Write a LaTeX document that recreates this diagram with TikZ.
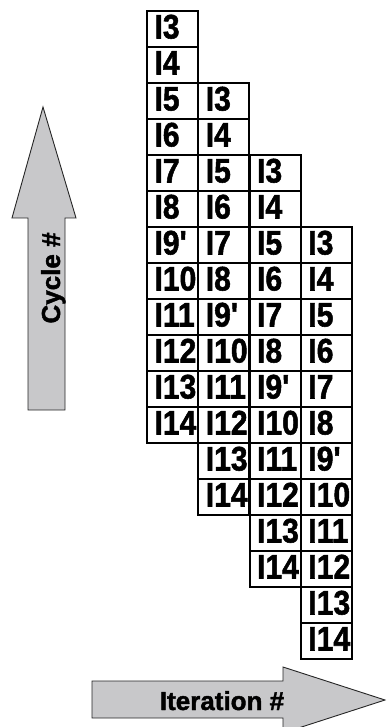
\documentclass[tikz,border=0pt]{standalone}
\usepackage{fontspec}
\setmainfont{Liberation Sans}
\newfontfamily\heavyfont[FakeBold=1.6]{Liberation Sans}
\definecolor{arrowgray}{RGB}{200,200,202}
\begin{document}
\begin{tikzpicture}[x=1pt,y=-1pt,
  cell/.style={draw, line width=2pt, anchor=north west,
    minimum width=51pt, minimum height=36pt, inner xsep=7.5pt, inner ysep=0pt,
    text height=25pt, text depth=6pt,
    font=\fontsize{31}{31}\heavyfont\bfseries},
  bigarrow/.style={draw=black!85, line width=0.9pt, fill=arrowgray, line join=miter},
  arrowtext/.style={font=\fontsize{26}{26}\heavyfont\bfseries, inner sep=0pt}]
\useasboundingbox (0,0) rectangle (386,727);
\clip (0,0) rectangle (386,727);
% cells
\foreach \c in {0,...,3} {
  \foreach \lab [count=\r from 0] in {I3,I4,I5,I6,I7,I8,I9\textquotesingle,I10,I11,I12,I13,I14} {
    \node[cell] (c\c r\r) at ({146+51.3*\c}, {10+72*\c+36*\r}) {\makebox[36pt][l]{\scalebox{0.97}[1.1]{\lab}}};
  }
}
% cycle arrow
\draw[bigarrow] (28,410) -- (28,218) -- (12,218) -- (43,107) -- (76,218) -- (65,218) -- (65,410) -- cycle;
\node[arrowtext, anchor=base, rotate=90] (cyc) at (60,278) {Cycle \#};
% iteration arrow
\draw[bigarrow] (92,681) -- (283,681) -- (283,667) -- (385,700) -- (283,733) -- (283,718) -- (92,718) -- cycle;
\node[arrowtext, anchor=base] (iter) at (222,710) {Iteration \#};
\end{tikzpicture}
\end{document}
